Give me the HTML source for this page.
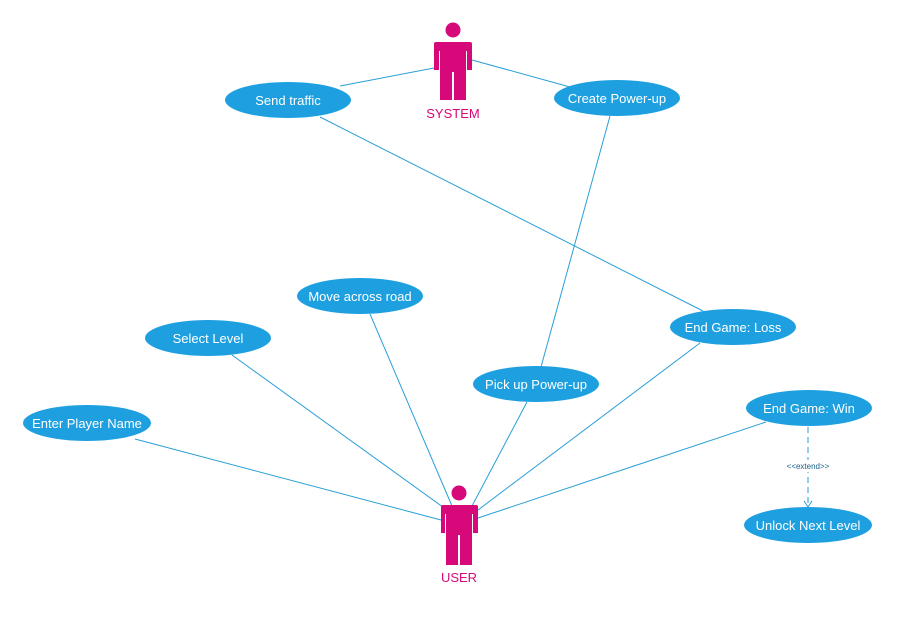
<!DOCTYPE html>
<html><head><meta charset="utf-8"><style>
html,body{margin:0;padding:0;background:#fff;}
svg{display:block;font-family:"Segoe UI","Liberation Sans",sans-serif;}
</style></head><body>
<svg width="905" height="622" viewBox="0 0 905 622" xmlns="http://www.w3.org/2000/svg">
<g stroke="#2a9fd6" stroke-width="1" fill="none">
<line x1="434" y1="68" x2="340" y2="86"/>
<line x1="472" y1="60" x2="570" y2="87"/>
<line x1="320" y1="117" x2="703" y2="311"/>
<line x1="610" y1="116" x2="541" y2="367"/>
<line x1="441" y1="520" x2="135" y2="439"/>
<line x1="447" y1="510" x2="232" y2="355"/>
<line x1="452" y1="506" x2="370" y2="314"/>
<line x1="472" y1="506" x2="527" y2="402"/>
<line x1="478" y1="510" x2="700" y2="343"/>
<line x1="478" y1="518" x2="766" y2="422"/>
<line x1="808" y1="427" x2="808" y2="507" stroke-dasharray="6,4"/>
<polyline points="804,501 808,507 812,501"/>
</g>
<rect x="778" y="460" width="60" height="12" fill="#fff"/>
<text x="808" y="469" font-size="8" fill="#1a5f8a" text-anchor="middle">&lt;&lt;extend&gt;&gt;</text>
<g fill="#1ea0e0">
<ellipse cx="288" cy="100" rx="63" ry="18"/>
<ellipse cx="617" cy="98" rx="63" ry="18"/>
<ellipse cx="360" cy="296" rx="63" ry="18"/>
<ellipse cx="208" cy="338" rx="63" ry="18"/>
<ellipse cx="733" cy="327" rx="63" ry="18"/>
<ellipse cx="536" cy="384" rx="63" ry="18"/>
<ellipse cx="87" cy="423" rx="64" ry="18"/>
<ellipse cx="809" cy="408" rx="63" ry="18"/>
<ellipse cx="808" cy="525" rx="64" ry="18"/>
</g>
<g fill="#fff" font-size="13" text-anchor="middle">
<text x="288" y="105">Send traffic</text>
<text x="617" y="103">Create Power-up</text>
<text x="360" y="301">Move across road</text>
<text x="208" y="343">Select Level</text>
<text x="733" y="332">End Game: Loss</text>
<text x="536" y="389">Pick up Power-up</text>
<text x="87" y="428">Enter Player Name</text>
<text x="809" y="413">End Game: Win</text>
<text x="808" y="530">Unlock Next Level</text>
</g>
<g fill="#d6087a">
<circle cx="453" cy="30" r="7.5"/>
<path d="M436,42 H470 Q472,42 472,44 V70 H467 V51 H466 V100 H454 V72 H452 V100 H440 V51 H439 V70 H434 V44 Q434,42 436,42Z"/>
<circle cx="459" cy="493" r="7.5"/>
<path d="M443,505 H476 Q478,505 478,507 V533 H473 V514 H472 V565 H460 V535 H458 V565 H446 V514 H445 V533 H441 V507 Q441,505 443,505Z"/>
</g>
<g fill="#d6087a" font-size="13" text-anchor="middle">
<text x="453" y="118">SYSTEM</text>
<text x="459" y="582">USER</text>
</g>
</svg>
</body></html>
